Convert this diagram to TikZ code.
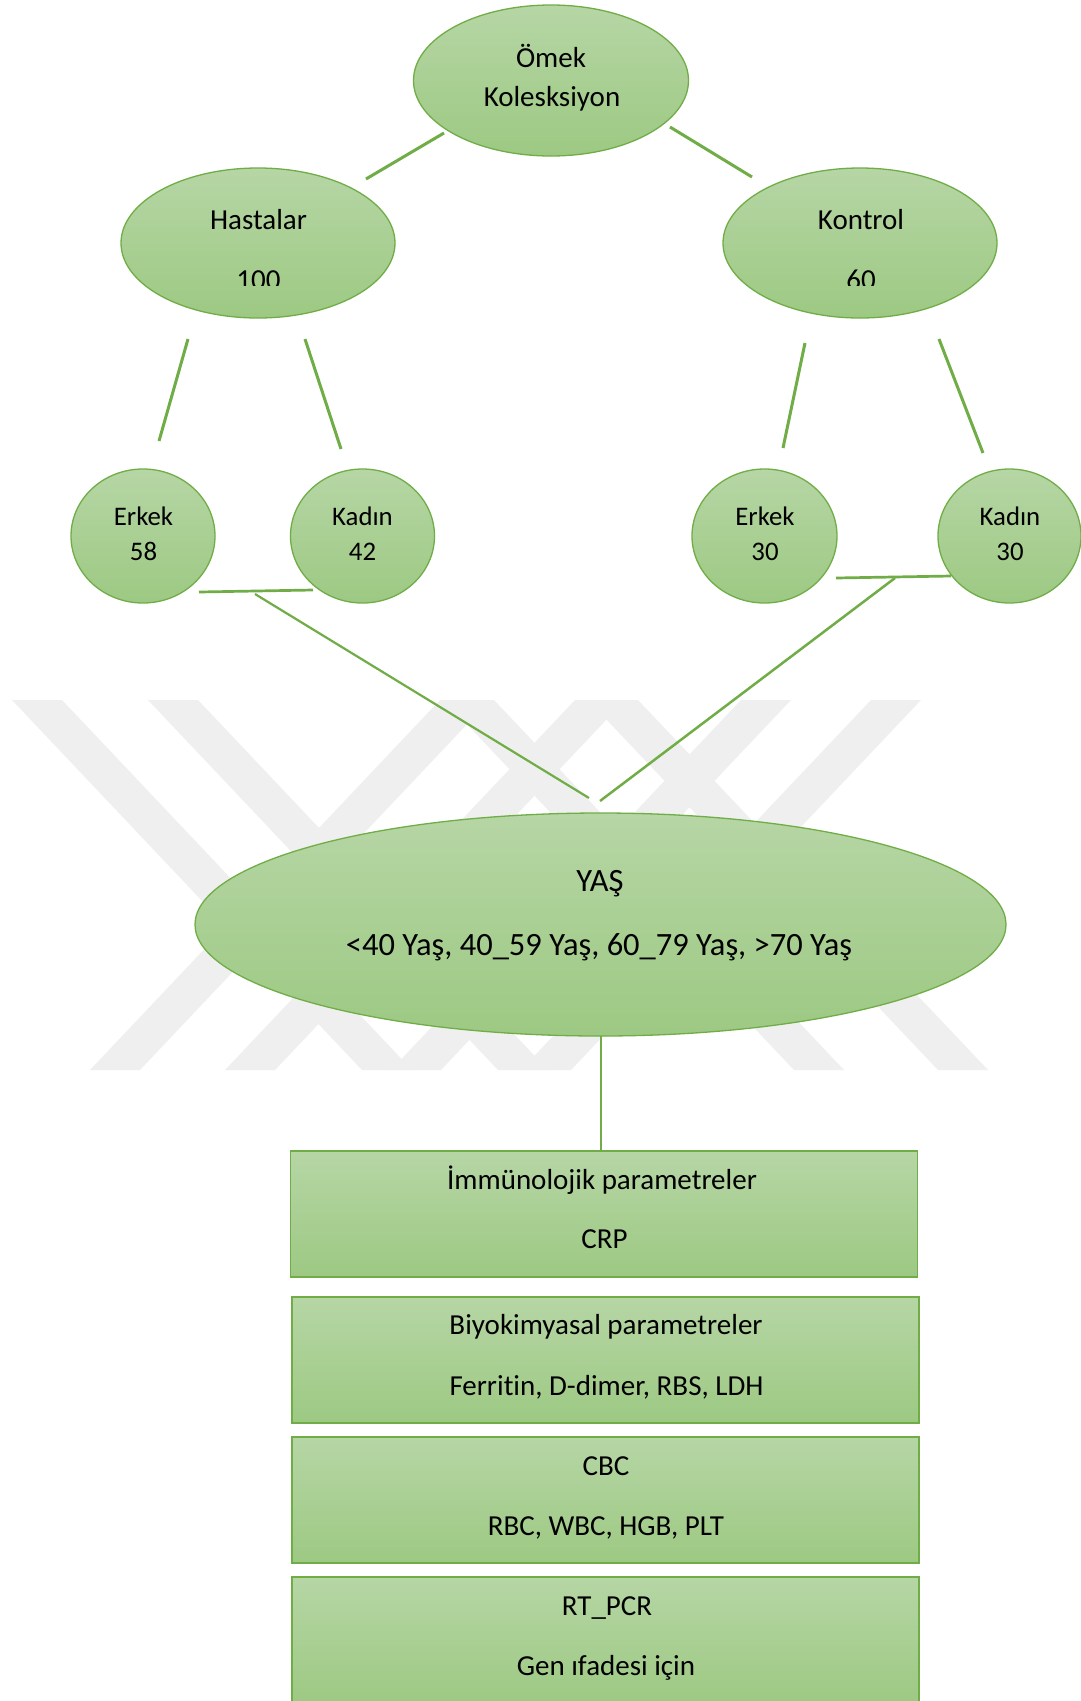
\documentclass[tikz,border=0pt]{standalone}
\usepackage{fontspec}
\setmainfont{Carlito}[Ligatures={NoCommon}]
\usetikzlibrary{shapes.geometric}
\definecolor{gtop}{RGB}{182,214,165}
\definecolor{gbot}{RGB}{157,201,131}
\definecolor{gline}{RGB}{112,173,71}
\definecolor{wm}{RGB}{239,239,239}
\begin{document}
\begin{tikzpicture}[x=1pt,y=-1pt,
  oval/.style={ellipse, draw=gline, line width=1.3pt, top color=gtop, bottom color=gbot, inner sep=0pt},
  boxst/.style={rectangle, draw=gline, line width=1.3pt, top color=gtop, bottom color=gbot, inner sep=0pt, minimum width=627pt, minimum height=126pt},
  txt/.style={inner sep=0pt, anchor=base, font=\fontsize{29}{35}\selectfont},
  txtsm/.style={inner sep=0pt, anchor=base, font=\fontsize{26.8}{32}\selectfont},
  txtbig/.style={inner sep=0pt, anchor=base, font=\fontsize{32.5}{39}\selectfont},
  conn/.style={draw=gline, line width=3pt},
  connthin/.style={draw=gline, line width=2.2pt},
  wmark/.style={fill=wm}]
\useasboundingbox (0,0) rectangle (1081,1701);
\clip (0,0) rectangle (1081,1701);
\fill[white] (0,0) rectangle (1081,1701);

% watermark stripes
\foreach \xt in {12,148,444,588}{
  \fill[wmark] (\xt,700) -- (\xt+50,700) -- (\xt+400,1070) -- (\xt+350,1070) -- cycle;}
\foreach \xt in {440,575,741,871}{
  \fill[wmark] (\xt,700) -- (\xt+50,700) -- (\xt-300,1070) -- (\xt-350,1070) -- cycle;}

% shapes
\node[oval, minimum width=275pt, minimum height=151pt] (root) at (551,80.5) {};
\node[oval, minimum width=274pt, minimum height=150pt] (hast) at (258,243) {};
\node[oval, minimum width=274pt, minimum height=150pt] (kont) at (860,243) {};
\node[oval, minimum width=144pt, minimum height=134pt] (he) at (143,536) {};
\node[oval, minimum width=144pt, minimum height=134pt] (hk) at (362.5,536) {};
\node[oval, minimum width=145pt, minimum height=134pt] (ke) at (764.5,536) {};
\node[oval, minimum width=143pt, minimum height=134pt] (kk) at (1009.5,536) {};
\node[oval, minimum width=811pt, minimum height=223pt] (yas) at (600.5,924.5) {};
\node[boxst] (b1) at (604,1214) {};
\node[boxst] (b2) at (605.5,1360) {};
\node[boxst] (b3) at (605.5,1500) {};
\node[boxst] (b4) at (605.5,1640) {};

% texts
\node[txt] (t1) at (551,67) {Ömek};
\node[txt] (t2) at (552,106) {Kolesksiyon};
\node[txt] (t3) at (258.5,229) {Hastalar};
\begin{scope}
  \clip (180,240) rectangle (340,285.5);
  \node[txt] (t4) at (258.5,289) {100};
\end{scope}
\node[txt] (t5) at (861,229) {Kontrol};
\begin{scope}
  \clip (780,240) rectangle (940,285.5);
  \node[txt] (t6) at (861,289) {60};
\end{scope}
\node[txtsm] (t7) at (143.5,525) {Erkek};
\node[txtsm] (t8) at (143.5,560) {58};
\node[txtsm] (t9) at (362.5,525) {Kadın};
\node[txtsm] (t10) at (362.5,560) {42};
\node[txtsm] (t11) at (765,525) {Erkek};
\node[txtsm] (t12) at (765,560) {30};
\node[txtsm] (t13) at (1010,525) {Kadın};
\node[txtsm] (t14) at (1010,560) {30};
\node[txtbig] (t15) at (600,891.5) {YAŞ};
\node[txtbig] (t16) at (599,955) {<40 Yaş, 40\_59 Yaş, 60\_79 Yaş, >70 Yaş};
\node[txt] (t17) at (602,1189) {İmmünolojik parametreler};
\node[txt] (t18) at (604.5,1248) {CRP};
\node[txt] (t19) at (606,1334) {Biyokimyasal parametreler};
\node[txt] (t20) at (606.5,1395) {Ferritin, D-dimer, RBS, LDH};
\node[txt] (t21) at (606,1475) {CBC};
\node[txt] (t22) at (606,1535) {RBC, WBC, HGB, PLT};
\node[txt] (t23) at (607,1615) {RT\_PCR};
\node[txt] (t24) at (606,1675) {Gen ıfadesi için};

% connector end points
\coordinate (c1a) at (444,133); \coordinate (c1b) at (366,179);
\coordinate (c2a) at (670,127); \coordinate (c2b) at (752,177);
\coordinate (c3a) at (188,339); \coordinate (c3b) at (159,441);
\coordinate (c4a) at (305,339); \coordinate (c4b) at (341,449);
\coordinate (c5a) at (805,343); \coordinate (c5b) at (783,448);
\coordinate (c6a) at (939,339); \coordinate (c6b) at (983,453);
\coordinate (h1a) at (199,592); \coordinate (h1b) at (313,590);
\coordinate (d1a) at (255,594); \coordinate (d1b) at (589,798);
\coordinate (h2a) at (836,578); \coordinate (h2b) at (951,576);
\coordinate (d2a) at (895,578); \coordinate (d2b) at (600,801);
\coordinate (va) at (601,1036); \coordinate (vb) at (601,1151);

\draw[conn] (c1a) -- (c1b);
\draw[conn] (c2a) -- (c2b);
\draw[conn] (c3a) -- (c3b);
\draw[conn] (c4a) -- (c4b);
\draw[conn] (c5a) -- (c5b);
\draw[conn] (c6a) -- (c6b);
\draw[conn, line width=2.7pt] (h1a) -- (h1b);
\draw[connthin] (d1a) -- (d1b);
\draw[conn, line width=2.7pt] (h2a) -- (h2b);
\draw[connthin, line width=2.5pt] (d2a) -- (d2b);
\draw[connthin, line width=2pt] (va) -- (vb);
\end{tikzpicture}
\end{document}
